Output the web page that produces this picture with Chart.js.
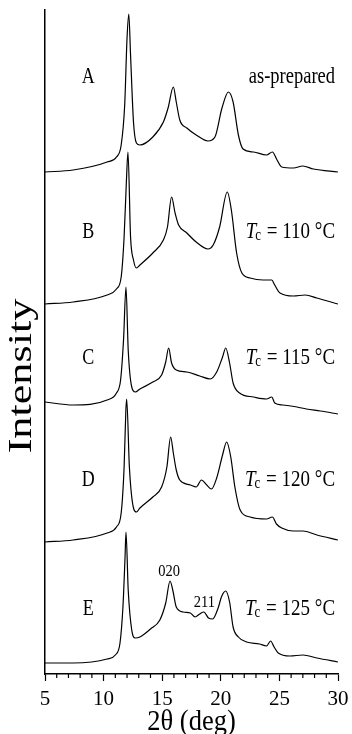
<!DOCTYPE html>
<html>
<head>
<meta charset="utf-8">
<script src="https://cdn.jsdelivr.net/npm/chart.js@4.4.0/dist/chart.umd.min.js"></script>
<style>
body { margin: 0; background: #fff; }
#wrap { width: 352px; height: 734px; }
</style>
</head>
<body>
<div id="wrap"><canvas id="xrd"></canvas></div>
<script>
// 2theta (deg) and relative intensity
var anglesA = [5.0, 7.4, 10.3, 11.1, 11.5, 11.8, 12.0, 12.15, 12.3, 12.55, 12.8, 13.1, 14.2, 15.1, 15.5, 15.95, 16.2, 16.5, 17.1, 17.9, 18.9, 19.5, 20.1, 20.65, 21.05, 21.5, 21.9, 22.8, 23.9, 24.4, 24.8, 25.2, 26.2, 27.0, 27.9, 30.0];
var countsA = [1, 3, 11, 16, 28, 68, 135, 159, 118, 51, 30, 28, 36, 51, 65, 86, 71, 53, 45, 38, 32, 36, 65, 81, 71, 38, 24, 21, 18, 21, 13, 6, 5, 7, 4, 1];

var anglesB = [5.0, 7.4, 10.3, 11.1, 11.5, 11.75, 11.95, 12.08, 12.3, 12.55, 12.8, 13.1, 14.2, 15.1, 15.45, 15.8, 16.1, 16.4, 17.1, 17.9, 18.9, 19.35, 19.9, 20.55, 20.9, 21.35, 21.8, 22.5, 23.6, 24.35, 24.6, 25.05, 26.2, 27.2, 28.2, 30.0];
var countsB = [0, 2, 9, 15, 27, 67, 124, 152, 67, 44, 36, 39, 51, 64, 77, 107, 91, 79, 71, 62, 55, 59, 77, 112, 94, 51, 31, 26, 24, 24, 19, 11, 8, 9, 6, 0];

var anglesC = [5.0, 7.4, 10.3, 11.1, 11.45, 11.7, 11.91, 12.1, 12.4, 12.7, 13.1, 14.2, 14.95, 15.3, 15.55, 15.8, 16.2, 17.1, 18.2, 19.1, 19.65, 20.15, 20.42, 20.75, 21.05, 21.6, 22.8, 23.9, 24.35, 24.6, 25.3, 26.5, 27.3, 28.5, 30.0];
var countsC = [0, -3, 2, 9, 22, 62, 115, 52, 15, 10, 13, 20, 27, 40, 54, 39, 32, 30, 26, 23, 30, 45, 54, 39, 19, 9, 5, 3, 5, -1, -3, -5, -7, -9, -12];

var anglesD = [5.0, 7.4, 10.3, 11.1, 11.5, 11.75, 11.9, 11.97, 12.2, 12.55, 12.8, 13.1, 14.2, 14.95, 15.4, 15.72, 15.95, 16.2, 16.5, 17.4, 17.9, 18.35, 18.8, 19.2, 19.65, 20.15, 20.5, 20.85, 21.2, 21.65, 22.5, 23.9, 24.4, 24.75, 25.2, 26.2, 27.0, 28.2, 30.0];
var countsD = [0, 2, 9, 15, 29, 75, 132, 143, 75, 34, 30, 34, 45, 55, 75, 105, 89, 72, 62, 57, 55, 62, 57, 53, 64, 87, 100, 85, 55, 32, 25, 23, 25, 18, 14, 11, 11, 7, 2];

var anglesE = [5.0, 7.4, 10.3, 11.0, 11.4, 11.65, 11.83, 11.91, 12.1, 12.4, 12.7, 13.1, 14.0, 14.8, 15.3, 15.67, 15.9, 16.2, 16.8, 17.4, 17.8, 18.2, 18.55, 18.95, 19.3, 19.8, 20.05, 20.42, 20.75, 21.05, 21.5, 22.2, 23.3, 23.9, 24.25, 24.55, 24.9, 25.9, 27.0, 28.2, 30.0];
var countsE = [0, 0, 4, 8, 20, 56, 106, 131, 73, 33, 25, 26, 34, 43, 60, 82, 73, 56, 51, 50, 46, 49, 51, 45, 44, 56, 66, 72, 61, 36, 26, 21, 19, 17, 22, 16, 10, 7, 8, 5, 1];

// vertical stacking offsets of the patterns
var offsets = [501, 370, 272, 132, 11];
var sampleNames = ['A', 'B', 'C', 'D', 'E'];
var conditions = ['as-prepared', '110', '115', '120', '125'];
var xTicks = [5, 10, 15, 20, 25, 30];
var peakNames = ['020', '211'];

var angles = [anglesA, anglesB, anglesC, anglesD, anglesE];
var counts = [countsA, countsB, countsC, countsD, countsE];

var serif = '"Liberation Serif", "Times New Roman", serif';

var datasets = [];
for (var i = 0; i < angles.length; i++) {
    var pts = [];
    for (var j = 0; j < angles[i].length; j++) {
        pts.push({ x: angles[i][j], y: counts[i][j] + offsets[i] });
    }
    datasets.push({
        label: sampleNames[i],
        data: pts,
        borderColor: '#000',
        borderWidth: 1.2,
        pointRadius: 0,
        fill: false,
        cubicInterpolationMode: 'monotone'
    });
}

function stretchText(ctx, text, x, y, size, align, sy) {
    ctx.save();
    ctx.font = size + 'px ' + serif;
    ctx.translate(x, y);
    ctx.scale(1, sy);
    ctx.textAlign = align;
    ctx.textBaseline = 'middle';
    ctx.fillText(text, 0, 0);
    ctx.restore();
}

function tcText(ctx, temp, xRight, y) {
    var rest = ' = ' + temp + ' \u00B0C';
    ctx.save();
    ctx.font = 'italic 19px ' + serif;
    var wT = ctx.measureText('T').width;
    ctx.font = '13px ' + serif;
    var wc = ctx.measureText('c').width;
    ctx.font = '19px ' + serif;
    var wr = ctx.measureText(rest).width;
    var x0 = xRight - (wT + wc + wr);
    ctx.translate(x0, y);
    ctx.scale(1, 1.22);
    ctx.textBaseline = 'middle';
    ctx.textAlign = 'left';
    ctx.font = 'italic 19px ' + serif;
    ctx.fillText('T', 0, 0);
    ctx.font = '13px ' + serif;
    ctx.fillText('c', wT - 1, 3);
    ctx.font = '19px ' + serif;
    ctx.fillText(rest, wT + wc, 0);
    ctx.restore();
}

var labelPlugin = {
    id: 'labels',
    afterDraw: function(chart) {
        var ctx = chart.ctx;
        var xs = chart.scales.x;
        var ys = chart.scales.y;
        var area = chart.chartArea;
        ctx.fillStyle = '#000';

        // minor ticks every degree
        ctx.save();
        ctx.strokeStyle = '#000';
        ctx.lineWidth = 1.2;
        for (var v = xs.min; v <= xs.max; v++) {
            if (v % 5 === 0) continue;
            var px = xs.getPixelForValue(v);
            ctx.beginPath();
            ctx.moveTo(px, area.bottom);
            ctx.lineTo(px, area.bottom + 4);
            ctx.stroke();
        }
        ctx.restore();

        // sample letters and conditions
        var rows = [597, 442, 316, 194, 65];
        for (var i = 0; i < sampleNames.length; i++) {
            var py = ys.getPixelForValue(rows[i]);
            stretchText(ctx, sampleNames[i], xs.getPixelForValue(8.7), py, 18, 'center', 1.25);
            if (i === 0) {
                stretchText(ctx, conditions[i], xs.getPixelForValue(29.75), py, 18.5, 'right', 1.22);
            } else {
                tcText(ctx, conditions[i], xs.getPixelForValue(29.75), py);
            }
        }

        // reflection labels
        stretchText(ctx, peakNames[0], xs.getPixelForValue(15.6), ys.getPixelForValue(102), 14.5, 'center', 1.1);
        stretchText(ctx, peakNames[1], xs.getPixelForValue(18.6), ys.getPixelForValue(71), 14.5, 'center', 1.1);

        // x title
        stretchText(ctx, '2\u03B8 (deg)', (area.left + area.right) / 2, area.bottom + 48, 26.5, 'center', 1.12);

        // y title
        ctx.save();
        ctx.translate(22, (area.top + area.bottom) / 2 + 34);
        ctx.rotate(-Math.PI / 2);
        ctx.scale(1.34, 1);
        ctx.font = '33px ' + serif;
        ctx.textAlign = 'center';
        ctx.textBaseline = 'middle';
        ctx.fillText('Intensity', 0, 0);
        ctx.restore();
    }
};

var ctx = document.getElementById('xrd');
var xrdChart = new Chart(ctx, {
    type: 'line',
    data: { datasets: datasets },
    options: {
        responsive: true,
        maintainAspectRatio: false,
        animation: false,
        layout: { padding: { left: 45, right: 14, top: 10, bottom: 0 } },
        plugins: {
            legend: { display: false },
            tooltip: { enabled: false }
        },
        scales: {
            x: {
                type: 'linear',
                min: 5,
                max: 30,
                afterBuildTicks: function(axis) {
                    axis.ticks = [];
                    for (var v = 5; v <= 30; v += 5) axis.ticks.push({ value: v });
                },
                afterFit: function(axis) {
                    axis.paddingLeft = 0;
                    axis.paddingRight = 0;
                    axis.height = 60;
                },
                ticks: {
                    color: '#000',
                    padding: 8,
                    autoSkip: false,
                    maxRotation: 0,
                    font: { family: serif, size: 21, lineHeight: 1 },
                    callback: function(v) { return xTicks.indexOf(v) >= 0 ? String(v) : ''; }
                },
                grid: {
                    display: true,
                    drawOnChartArea: false,
                    tickLength: 7,
                    tickWidth: 1.2,
                    tickColor: '#000'
                },
                border: { display: true, color: '#000', width: 1.5 }
            },
            y: {
                type: 'linear',
                min: 0,
                max: 664,
                ticks: { display: false },
                grid: { display: false, drawTicks: false },
                border: { display: true, color: '#000', width: 1.5 }
            }
        }
    },
    plugins: [labelPlugin]
});
</script>
</body>
</html>
